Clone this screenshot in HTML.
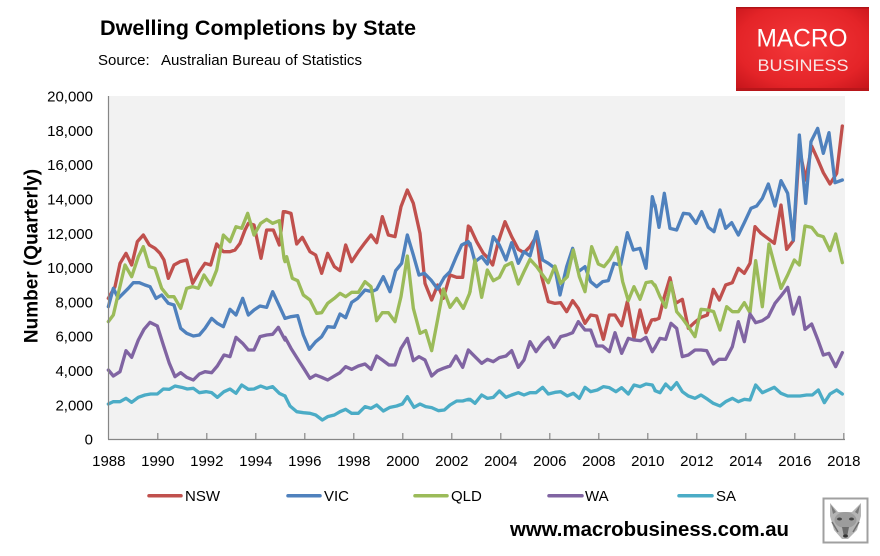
<!DOCTYPE html>
<html>
<head>
<meta charset="utf-8">
<style>
html,body{margin:0;padding:0;background:#ffffff;}
body{width:880px;height:556px;overflow:hidden;}
svg{display:block;}
text{font-family:"Liberation Sans",sans-serif;}
</style>
</head>
<body>
<svg width="880" height="556" viewBox="0 0 880 556" xmlns="http://www.w3.org/2000/svg">
  <defs>
    <radialGradient id="lg" cx="50%" cy="45%" r="70%">
      <stop offset="0%" stop-color="#f4383a"/>
      <stop offset="70%" stop-color="#e42428"/>
      <stop offset="100%" stop-color="#c8161c"/>
    </radialGradient>
  </defs>

  <!-- Title -->
  <text x="100" y="35" font-size="21.6" font-weight="bold" fill="#000" textLength="316" lengthAdjust="spacingAndGlyphs">Dwelling Completions by State</text>
  <text x="98" y="65" font-size="15" fill="#000">Source:</text>
  <text x="161" y="65" font-size="15" fill="#000" textLength="201" lengthAdjust="spacingAndGlyphs">Australian Bureau of Statistics</text>

  <!-- Logo -->
  <rect x="736" y="7" width="133" height="84" fill="url(#lg)"/>
  <rect x="736" y="7" width="133" height="1.5" fill="#b01216"/>
  <rect x="736" y="88" width="133" height="3" fill="#b8161a"/>
  <text x="802" y="46.5" font-size="25" fill="#ffffff" text-anchor="middle" textLength="91" lengthAdjust="spacingAndGlyphs">MACRO</text>
  <text x="803" y="71" font-size="17" fill="#f8e6e6" text-anchor="middle" textLength="91" lengthAdjust="spacingAndGlyphs">BUSINESS</text>

  <!-- Plot area -->
  <rect x="108.5" y="96" width="736.5" height="343" fill="#f2f2f2"/>

  <!-- Y axis labels -->
  <g font-size="15" fill="#000" text-anchor="end">
    <text x="93" y="101.5">20,000</text>
    <text x="93" y="135.8">18,000</text>
    <text x="93" y="170.1">16,000</text>
    <text x="93" y="204.5">14,000</text>
    <text x="93" y="238.8">12,000</text>
    <text x="93" y="273.1">10,000</text>
    <text x="93" y="307.4">8,000</text>
    <text x="93" y="341.7">6,000</text>
    <text x="93" y="376.1">4,000</text>
    <text x="93" y="410.4">2,000</text>
    <text x="93" y="444.7">0</text>
  </g>

  <!-- Y title -->
  <text transform="translate(37.5,256) rotate(-90)" font-size="19" font-weight="bold" text-anchor="middle" fill="#000">Number (Quarterly)</text>

  <!-- X axis labels -->
  <g font-size="15" fill="#000" text-anchor="middle">
    <text x="108.8" y="466">1988</text>
    <text x="157.8" y="466">1990</text>
    <text x="206.8" y="466">1992</text>
    <text x="255.8" y="466">1994</text>
    <text x="304.8" y="466">1996</text>
    <text x="353.8" y="466">1998</text>
    <text x="402.8" y="466">2000</text>
    <text x="451.8" y="466">2002</text>
    <text x="500.8" y="466">2004</text>
    <text x="549.8" y="466">2006</text>
    <text x="598.8" y="466">2008</text>
    <text x="647.8" y="466">2010</text>
    <text x="696.8" y="466">2012</text>
    <text x="745.8" y="466">2014</text>
    <text x="794.8" y="466">2016</text>
    <text x="843.8" y="466">2018</text>
  </g>

  <!-- Series -->
  <g fill="none" stroke-width="10" stroke-linejoin="round" stroke-linecap="round">
    <!-- segment 1 -->
    <g transform="translate(100,90) scale(0.333333)">
      <polyline stroke="#c0504d" points="25,625 45,590 60,520 78,490 95,525 112,455 130,435 148,465 165,475 180,490 192,510 205,565 222,525 240,515 260,510 278,580 298,545 315,520 332,525 350,462 370,485 390,485 405,480 420,460 435,420 445,400 462,405 483,505 500,420 520,420 538,465 550,365 555,366"/>
      <polyline stroke="#4f81bd" points="25,650 40,595 55,625 70,610 85,595 100,578 118,578 135,585 150,590 168,625 185,615 205,640 222,645 242,715 260,730 280,738 298,735 315,715 335,685 352,700 370,710 390,658 408,675 428,625 445,675 462,660 480,648 500,652 518,605 538,648 555,685"/>
      <polyline stroke="#9bbb59" points="25,695 40,675 55,610 75,525 95,560 115,500 130,470 148,530 165,535 185,595 205,620 222,620 242,655 260,595 278,590 295,595 312,555 332,585 350,540 370,435 390,455 408,410 425,415 443,370 462,435 482,400 500,388 518,400 538,392 552,505 555,515"/>
      <polyline stroke="#8064a2" points="25,840 40,858 60,845 78,782 95,802 115,750 132,718 150,697 172,708 190,765 208,820 225,860 242,848 260,862 280,870 298,852 315,845 335,848 352,828 372,795 390,800 408,742 428,760 445,780 462,780 480,740 500,735 518,733 535,712 555,750"/>
      <polyline stroke="#4bacc6" points="25,942 40,935 60,935 78,925 95,937 115,922 135,915 152,912 172,912 190,897 208,898 225,888 245,892 262,897 280,895 298,908 318,905 335,908 352,922 372,905 390,897 408,910 425,885 445,898 462,897 482,888 500,895 518,890 538,910 555,918"/>
    </g>
    <!-- segment 2 -->
    <g transform="translate(285,90) scale(0.333333)">
      <polyline stroke="#c0504d" points="0,365 18,370 35,462 52,442 75,485 92,495 110,550 128,490 148,530 165,542 182,465 200,515 220,485 240,458 258,435 275,458 292,380 310,435 330,440 348,350 367,300 385,340 405,430 420,580 440,630 458,585 475,625 495,555 515,562 533,562 550,408 555,420"/>
      <polyline stroke="#4f81bd" points="0,685 18,680 38,677 55,735 73,778 92,755 110,740 128,710 148,712 165,672 182,683 200,637 218,625 240,600 260,605 275,598 295,560 315,605 332,542 350,520 367,435 385,495 402,555 418,550 438,570 458,597 478,562 495,545 513,502 530,465 550,455 555,468"/>
      <polyline stroke="#9bbb59" points="5,500 22,565 38,572 55,615 75,630 95,670 110,668 128,640 148,625 165,610 182,620 200,607 220,607 240,575 258,590 275,692 292,668 310,668 330,695 348,620 367,498 385,655 405,730 422,722 440,782 458,688 475,597 495,652 515,625 535,655 553,612 555,605"/>
      <polyline stroke="#8064a2" points="0,742 18,775 40,810 58,838 75,865 92,855 110,862 128,870 148,858 165,848 182,830 200,838 220,828 240,822 258,838 275,798 292,810 312,825 330,825 348,775 367,745 385,812 402,800 420,810 440,858 458,842 475,835 495,828 513,798 533,832 550,780 555,785"/>
      <polyline stroke="#4bacc6" points="0,918 15,948 35,965 55,968 75,970 92,975 112,990 128,980 148,975 165,965 182,958 200,970 220,970 240,950 258,955 275,945 295,963 315,952 335,948 352,942 367,920 387,952 405,942 422,950 440,953 460,962 478,960 495,945 515,933 533,933 550,928 555,930"/>
    </g>
    <!-- segment 3 -->
    <g transform="translate(470,90) scale(0.333333)">
      <polyline stroke="#c0504d" points="0,412 20,455 40,490 55,505 68,525 85,455 105,395 125,440 145,478 162,488 180,470 200,438 215,560 235,635 255,640 272,638 290,665 308,632 325,655 345,700 362,675 380,678 400,748 418,675 435,675 455,707 472,635 492,745 510,660 528,728 545,690 555,688"/>
      <polyline stroke="#4f81bd" points="0,460 15,515 35,500 52,522 70,440 88,465 108,510 125,458 145,520 162,485 180,498 200,425 218,510 235,520 255,535 270,615 290,530 308,475 325,545 345,530 362,575 380,590 398,575 415,572 432,520 452,525 472,428 490,480 510,475 528,535 547,320 555,350"/>
      <polyline stroke="#9bbb59" points="0,605 15,510 35,622 52,540 70,572 88,562 105,528 125,518 145,582 162,545 180,508 200,530 218,555 235,578 255,528 272,580 292,560 310,480 328,560 345,605 365,470 385,522 402,530 420,508 440,472 458,575 475,632 492,590 510,628 528,578 545,575 555,588"/>
      <polyline stroke="#8064a2" points="0,785 15,800 35,820 52,808 70,815 88,803 108,798 125,782 145,832 162,810 180,755 198,785 218,758 235,742 252,772 272,740 290,735 308,728 325,695 345,720 362,720 380,768 398,768 418,785 435,728 455,790 475,745 492,750 512,752 528,742 547,785 555,772"/>
      <polyline stroke="#4bacc6" points="0,928 15,940 35,915 52,925 70,922 88,903 108,922 125,915 145,908 162,915 180,908 198,908 218,892 235,912 255,907 272,905 292,918 310,910 328,925 345,892 362,905 382,900 400,890 418,893 438,905 455,893 475,912 492,885 510,890 528,882 547,885 555,900"/>
    </g>
    <!-- segment 4 -->
    <g transform="translate(655,90) scale(0.333333)">
      <polyline stroke="#c0504d" points="0,690 12,685 28,620 45,563 62,640 82,628 100,715 118,698 138,682 157,675 175,598 193,630 212,585 232,578 250,535 268,550 285,520 300,410 318,430 338,445 358,460 378,345 395,478 415,452 433,175 452,270 470,168 488,208 505,248 525,282 545,250 562,108"/>
      <polyline stroke="#4f81bd" points="0,345 12,412 28,310 45,415 65,420 85,370 103,372 123,400 140,365 160,412 177,425 195,360 212,415 230,398 250,435 268,398 288,355 305,348 322,325 340,282 360,348 378,272 398,310 415,450 433,135 452,340 468,155 488,115 505,190 522,128 540,278 562,270"/>
      <polyline stroke="#9bbb59" points="0,585 15,620 32,652 48,578 65,665 82,685 100,710 120,740 138,658 158,660 176,665 195,720 215,650 232,665 250,665 268,638 285,668 302,512 322,650 342,462 360,530 378,595 398,555 418,510 433,525 450,408 470,412 488,435 505,440 525,482 542,432 562,518"/>
      <polyline stroke="#8064a2" points="0,772 15,745 32,748 48,700 65,715 82,800 100,795 120,780 138,780 155,782 175,822 192,808 212,808 232,770 250,695 268,755 285,672 302,698 322,692 340,680 360,640 378,618 398,592 415,672 433,622 450,718 470,702 488,748 505,795 522,790 542,830 562,788"/>
      <polyline stroke="#4bacc6" points="0,902 15,908 32,882 48,898 65,878 82,905 100,918 120,925 138,915 158,928 175,940 195,948 212,935 232,925 250,935 268,928 285,930 302,885 322,908 340,900 358,892 378,910 398,918 418,918 435,918 455,915 472,915 490,900 508,938 525,912 545,900 562,912"/>
    </g>
  </g>

  <!-- Axes -->
  <g stroke="#868686" stroke-width="1.2" fill="none">
    <line x1="108.5" y1="96" x2="108.5" y2="439.5"/>
    <line x1="108" y1="439.5" x2="845" y2="439.5"/>
    <line x1="157.8" y1="433" x2="157.8" y2="439.5"/>
    <line x1="206.8" y1="433" x2="206.8" y2="439.5"/>
    <line x1="255.8" y1="433" x2="255.8" y2="439.5"/>
    <line x1="304.8" y1="433" x2="304.8" y2="439.5"/>
    <line x1="353.8" y1="433" x2="353.8" y2="439.5"/>
    <line x1="402.8" y1="433" x2="402.8" y2="439.5"/>
    <line x1="451.8" y1="433" x2="451.8" y2="439.5"/>
    <line x1="500.8" y1="433" x2="500.8" y2="439.5"/>
    <line x1="549.8" y1="433" x2="549.8" y2="439.5"/>
    <line x1="598.8" y1="433" x2="598.8" y2="439.5"/>
    <line x1="647.8" y1="433" x2="647.8" y2="439.5"/>
    <line x1="696.8" y1="433" x2="696.8" y2="439.5"/>
    <line x1="745.8" y1="433" x2="745.8" y2="439.5"/>
    <line x1="794.8" y1="433" x2="794.8" y2="439.5"/>
    <line x1="843.8" y1="433" x2="843.8" y2="439.5"/>
  </g>

  <!-- Legend -->
  <g stroke-width="3.5" stroke-linecap="round">
    <line x1="149" y1="495.8" x2="181" y2="495.8" stroke="#c0504d"/>
    <line x1="288" y1="495.8" x2="320" y2="495.8" stroke="#4f81bd"/>
    <line x1="415" y1="495.8" x2="447" y2="495.8" stroke="#9bbb59"/>
    <line x1="549" y1="495.8" x2="582" y2="495.8" stroke="#8064a2"/>
    <line x1="679" y1="495.8" x2="712" y2="495.8" stroke="#4bacc6"/>
  </g>
  <g font-size="15" fill="#000">
    <text x="185" y="501">NSW</text>
    <text x="324" y="501">VIC</text>
    <text x="451" y="501">QLD</text>
    <text x="585" y="501">WA</text>
    <text x="716" y="501">SA</text>
  </g>

  <!-- URL -->
  <text x="510" y="536" font-size="20.3" font-weight="bold" fill="#000" textLength="279" lengthAdjust="spacingAndGlyphs">www.macrobusiness.com.au</text>

  <!-- Wolf badge -->
  <rect x="823.5" y="498.5" width="44" height="44" fill="#ffffff" stroke="#a0a0a0" stroke-width="2"/>
  <g>
    <polygon points="830,503 838,512 852,512 861,503 861,516 857,530 848,539 842,539 834,530 830,516" fill="#b4b4b4"/>
    <polygon points="831,505 836,512 833,514" fill="#7a7a7a"/>
    <polygon points="860,505 855,512 858,514" fill="#7a7a7a"/>
    <ellipse cx="845.5" cy="520" rx="11" ry="8" fill="#9c9c9c"/>
    <ellipse cx="839.5" cy="519" rx="2.5" ry="1.5" fill="#444"/>
    <ellipse cx="851.5" cy="519" rx="2.5" ry="1.5" fill="#444"/>
    <polygon points="842,527 849,527 847,537 844,537" fill="#6a6a6a"/>
    <ellipse cx="845.5" cy="536" rx="2.5" ry="1.6" fill="#333"/>
    <path d="M832,522 L838,532 M859,522 L853,532" stroke="#707070" stroke-width="1.5" fill="none"/>
  </g>
</svg>
</body>
</html>
